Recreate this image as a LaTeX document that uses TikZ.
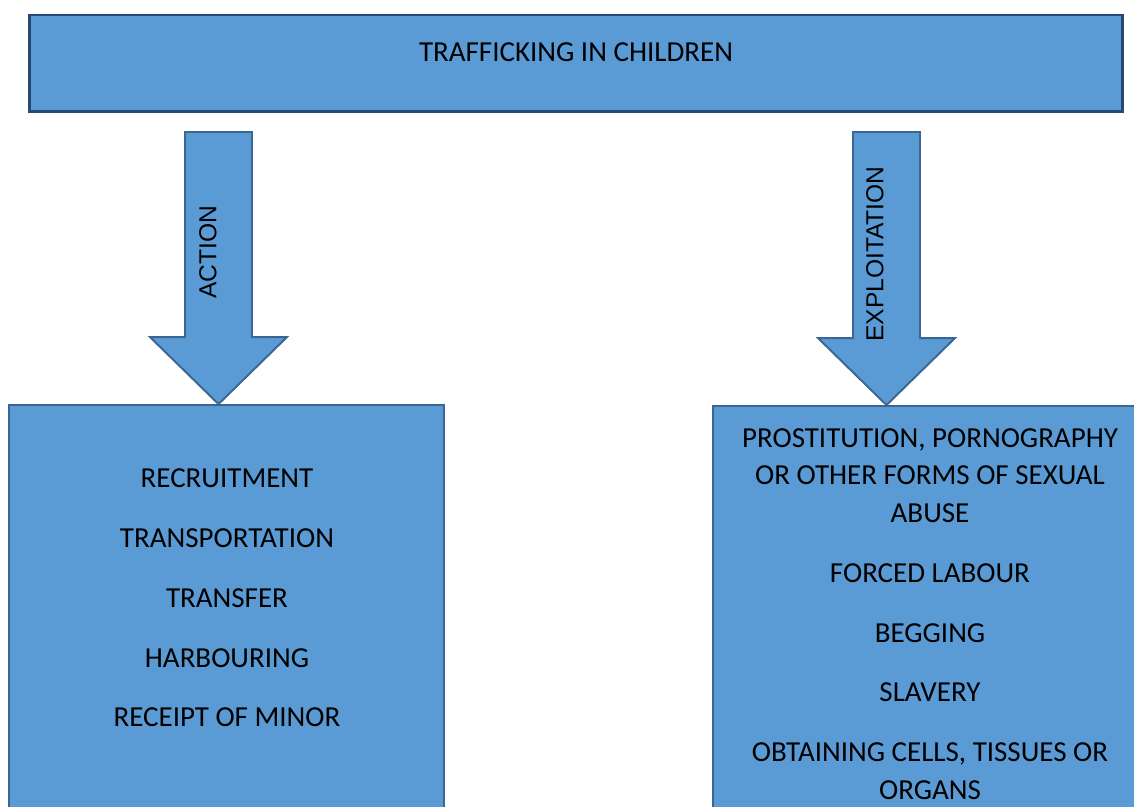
\documentclass[tikz,border=0pt]{standalone}
\usepackage{fontspec}
\setmainfont{Carlito}
\newfontfamily\arrowfont{Liberation Sans}
\usetikzlibrary{positioning,calc}

\definecolor{boxblue}{RGB}{91,155,213}
\definecolor{boxline}{RGB}{58,102,145}
\definecolor{titleline}{RGB}{38,74,116}

\begin{document}
\begin{tikzpicture}[
    x=0.02cm, y=-0.02cm,
    box/.style        = {rectangle, draw=boxline, fill=boxblue, line width=1.1pt, inner sep=0pt},
    titlebox/.style   = {box, draw=titleline, line width=1.7pt, minimum width=21.88cm, minimum height=1.94cm},
    listbox/.style    = {box, minimum width=8.7cm, minimum height=8.5cm},
    blockarrow/.style = {draw=boxline, fill=boxblue, line width=1.1pt, line join=miter},
    itemtext/.style   = {align=center, font=\fontsize{16.5}{21.5}\selectfont, inner sep=0pt},
    arrowtext/.style  = {rotate=90, font=\arrowfont\fontsize{14}{16}\selectfont, inner sep=0pt},
]
\useasboundingbox (0,0) rectangle (1134,807);
\clip (0,0) rectangle (1134,807);

% --- title bar ---
\node[titlebox] (title) at (576,63.5) {};
\node[itemtext] (titletxt) at (576,52) {TRAFFICKING IN CHILDREN};

% --- the two lists ---
\node[listbox] (actbox) at (226.5,617.5) {};
\node[listbox] (expbox) at (930,618.5) {};

\node[itemtext] (actlist) at (227,598) {RECRUITMENT\\[12.5pt]
    TRANSPORTATION\\[12.5pt] TRANSFER\\[12.5pt] HARBOURING\\[12.5pt] RECEIPT OF MINOR};
\node[itemtext] (explist) at (930,614) {PROSTITUTION, PORNOGRAPHY\\
    OR OTHER FORMS OF SEXUAL\\ ABUSE\\[12.5pt] FORCED LABOUR\\[12.5pt]
    BEGGING\\[12.5pt] SLAVERY\\[12.5pt] OBTAINING CELLS, TISSUES OR\\ ORGANS};

% --- block arrows from the title down to the lists ---
\coordinate (acttail) at (218.5,132);
\coordinate (acttip) at ($(actbox.north)+(-8,0)$);
\draw[blockarrow] ($(acttail)+(-33.5,0)$) -- ($(acttail)+(33.5,0)$)
    -- ($(acttip)+(33.5,-67)$) -- ($(acttip)+(68.5,-67)$) -- (acttip)
    -- ($(acttip)+(-68.5,-67)$) -- ($(acttip)+(-33.5,-67)$) -- cycle;

\coordinate (exptail) at (886.5,132);
\coordinate (exptip) at ($(expbox.north)+(-43.5,0)$);
\draw[blockarrow] ($(exptail)+(-33.5,0)$) -- ($(exptail)+(33.5,0)$)
    -- ($(exptip)+(33.5,-67)$) -- ($(exptip)+(68.5,-67)$) -- (exptip)
    -- ($(exptip)+(-68.5,-67)$) -- ($(exptip)+(-33.5,-67)$) -- cycle;

\node[arrowtext] (actlabel) at (208,252) {ACTION};
\node[arrowtext] (explabel) at (875,254) {EXPLOITATION};

\end{tikzpicture}
\end{document}
